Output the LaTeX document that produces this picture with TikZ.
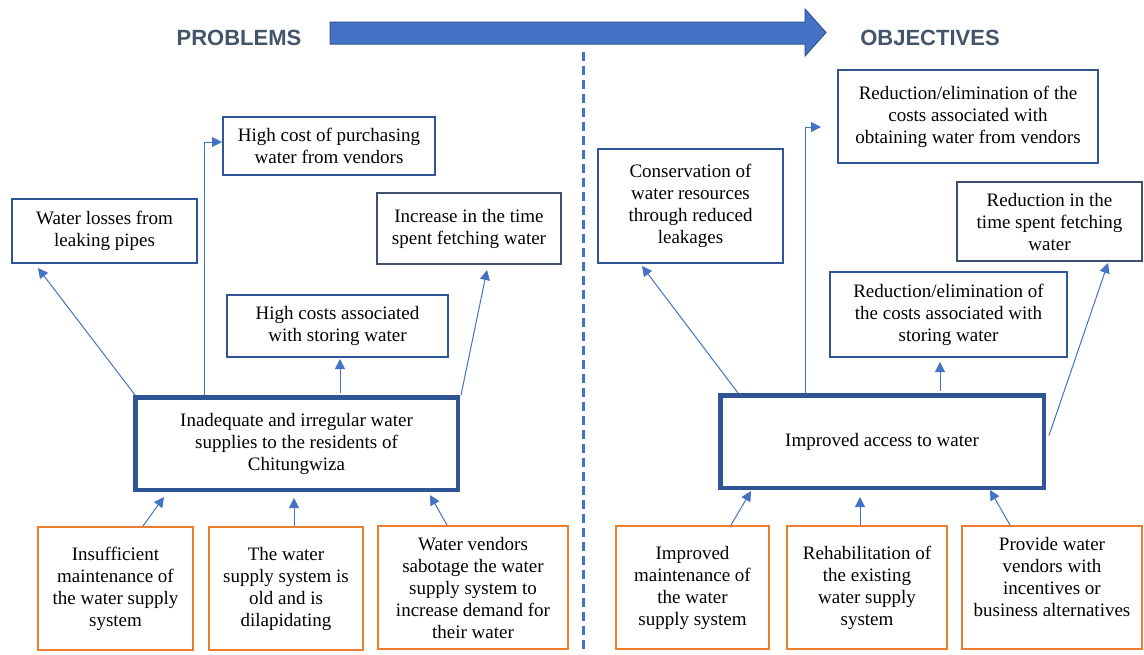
\documentclass[tikz,border=0pt]{standalone}
\usepackage{fontspec}
\setmainfont{Liberation Serif}
\newfontfamily\headfont{Liberation Sans}
\usetikzlibrary{arrows.meta,calc}
\definecolor{boxblue}{HTML}{2F5597}
\definecolor{linkblue}{HTML}{4472C4}
\definecolor{orangeb}{HTML}{ED7D31}
\definecolor{slate}{HTML}{44546A}
\definecolor{greyblue}{HTML}{3E4F70}
\begin{document}
\begin{tikzpicture}[x=1pt,y=-1pt,
 box/.style={draw=boxblue,line width=2pt,fill=white,align=center,inner sep=0pt,font=\fontsize{19}{22}\selectfont},
 greybox/.style={box,draw=greyblue},
 mainbox/.style={box,line width=4.5pt},
 causebox/.style={box,draw=orangeb},
 head/.style={font=\headfont\bfseries\fontsize{22}{26}\selectfont,text=slate,inner sep=0pt},
 conn/.style={draw=linkblue,line width=1pt,-{Triangle[length=10pt,width=10pt]}}]
\useasboundingbox (0,0) rectangle (1144,654);

% header
\node[head] (prob) at (239,38) {PROBLEMS};
\node[head] (obj) at (930,38) {OBJECTIVES};
\draw[fill=linkblue,draw=boxblue,line width=1pt] (330,22) -- (805,22) -- (805,9) -- (826,32.5) -- (805,56) -- (805,44) -- (330,44) -- cycle;
\draw[linkblue,line width=3pt,dash pattern=on 9pt off 5pt] (583,52) -- (583,654);

% left side
\node[box,minimum width=185pt,minimum height=64pt] (wl) at (104.5,231) {Water losses from\\leaking pipes};
\node[box,minimum width=212pt,minimum height=58pt] (hp) at (329,146) {High cost of purchasing\\water from vendors};
\node[greybox,minimum width=184pt,minimum height=71pt] (it) at (469,228.5) {Increase in the time\\spent fetching water};
\node[box,minimum width=221pt,minimum height=62pt] (hs) at (337.5,326) {High costs associated\\with storing water};
\node[mainbox,minimum width=322.5pt,minimum height=92.5pt] (ml) at (296.5,443.5) {Inadequate and irregular water\\supplies to the residents of\\Chitungwiza};
\node[causebox,minimum width=155pt,minimum height=123pt] (o1) at (115.5,588.5) {Insufficient\\maintenance of\\the water supply\\system};
\node[causebox,minimum width=154pt,minimum height=123pt] (o2) at (286,588.5) {The water\\supply system is\\old and is\\dilapidating};
\node[causebox,minimum width=190pt,minimum height=123pt] (o3) at (473,587.5) {Water vendors\\sabotage the water\\supply system to\\increase demand for\\their water};

% right side
\node[box,minimum width=185pt,minimum height=114pt] (cons) at (690.5,206) {Conservation of\\water resources\\through reduced\\leakages};
\node[box,minimum width=260pt,minimum height=93pt] (ven) at (968,116.5) {Reduction/elimination of the\\costs associated with\\obtaining water from vendors};
\node[greybox,minimum width=185pt,minimum height=79pt] (time) at (1049.5,221.5) {Reduction in the\\time spent fetching\\water};
\node[box,minimum width=237pt,minimum height=85pt] (rs) at (948.5,314.5) {Reduction/elimination of\\the costs associated with\\storing water};
\node[mainbox,minimum width=323.5pt,minimum height=92.5pt] (mr) at (882,441.5) {Improved access to water};
\node[causebox,minimum width=153pt,minimum height=123pt] (r1) at (692.5,587.5) {Improved\\maintenance of\\the water\\supply system};
\node[causebox,minimum width=160pt,minimum height=123pt] (r2) at (867,587.5) {Rehabilitation of\\the existing\\water supply\\system};
\node[causebox,minimum width=180pt,minimum height=123pt] (r3) at (1052,587.5) {Provide water\\vendors with\\incentives or\\business alternatives\\\mbox{}};

% left connectors
\draw[conn] ($(ml.north west)+(2,0)$) -- ($(wl.south west)+(27,4)$);
\draw[conn] ($(ml.north west)+(71,0)$) |- ($(hp.west)+(0,-4)$);
\draw[conn] ($(ml.north)+(43.5,-2)$) -- ($(hs.south)+(2.5,1)$);
\draw[conn] ($(ml.north east)+(1,0)$) -- ($(it.south)+(18,5)$);
\draw[conn] ($(o1.north)+(27.5,0)$) -- ($(ml.south west)+(31,5)$);
\draw[conn] ($(o2.north)+(8,0)$) -- ($(o2.north)+(8,-28)$);
\draw[conn] ($(o3.north)+(-26,0)$) -- ($(ml.south east)+(-30,3)$);

% right connectors
\draw[conn] ($(mr.north west)+(20,0)$) -- ($(cons.south)+(-48.5,2)$);
\draw[conn] ($(mr.north west)+(87,0)$) |- ($(ven.west)+(-16,10.5)$);
\draw[conn] ($(mr.north)+(58,-2)$) -- ($(rs.south)+(-8.5,4)$);
\draw[conn] ($(mr.east)+(3,-6)$) -- ($(time.south)+(58.5,1)$);
\draw[conn] ($(r1.north)+(38.5,0)$) -- ($(mr.south west)+(33,1)$);
\draw[conn] ($(r2.north)+(-7,0)$) -- ($(r2.north)+(-7,-28)$);
\draw[conn] ($(r3.north)+(-42,0)$) -- ($(mr.south east)+(-56,0)$);
\end{tikzpicture}
\end{document}
